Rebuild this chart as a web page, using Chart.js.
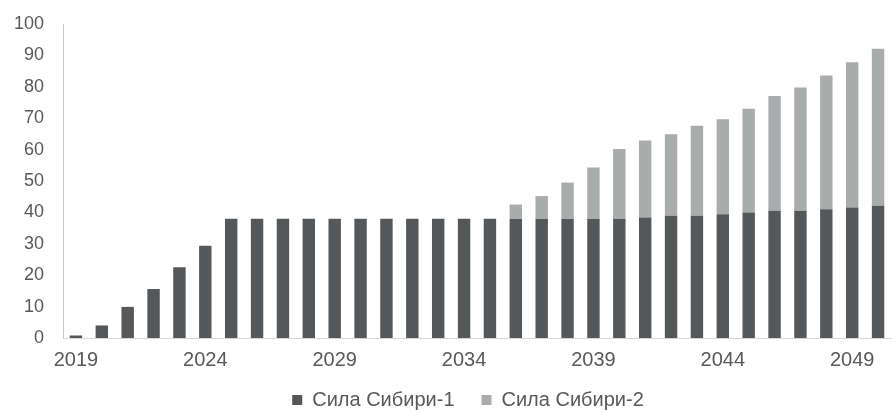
<!DOCTYPE html>
<html>
<head>
<meta charset="utf-8">
<script src="https://cdn.jsdelivr.net/npm/chart.js@4.4.1/dist/chart.umd.min.js"></script>
<style>
  html, body { margin: 0; padding: 0; background: #ffffff; }
  #wrap { width: 892px; height: 412px; position: relative; }
</style>
</head>
<body>
<div id="wrap"><canvas id="chart"></canvas></div>
<script>
// Годы (категории оси X)
const years = ['2019','2020','2021','2022','2023','2024','2025','2026','2027','2028',
               '2029','2030','2031','2032','2033','2034','2035','2036','2037','2038',
               '2039','2040','2041','2042','2043','2044','2045','2046','2047','2048',
               '2049','2050'];

// Сила Сибири-1, млрд куб. м
const sila1 = [0.8, 4, 9.9, 15.6, 22.5, 29.4,
               38, 38, 38, 38, 38, 38, 38, 38, 38, 38, 38, 38, 38, 38, 38, 38,
               38.4, 38.9, 38.9, 39.4, 40.0, 40.5, 40.5, 41.0, 41.6, 42.1];

// Сила Сибири-2, млрд куб. м (поставки с 2036 г.)
const sila2 = [null, null, null, null, null, null, null, null, null, null,
               null, null, null, null, null, null, null,
               4.5, 7.2, 11.5, 16.3, 22.2, 24.5, 26.0, 28.7, 30.3, 33.0, 36.6, 39.3, 42.6, 46.2, 50.0];

// Подписи оси Y
const yTicks = [0, 10, 20, 30, 40, 50, 60, 70, 80, 90, 100];

const seriesNames = ['Сила Сибири-1', 'Сила Сибири-2'];
const textColor = '#595959';
const fontFamily = '"Liberation Sans", Arial, sans-serif';

// Донастройка раскладки: сдвиг легенды и место под подписи оси X
const layoutTweak = {
  id: 'layoutTweak',
  afterLayout(chart) {
    const lg = chart.legend;
    if (lg) { lg.left -= 9; lg.right -= 9; }
    const x = chart.scales.x;
    if (x) { x.bottom = x.top + 40; }
  }
};

new Chart(document.getElementById('chart'), {
  type: 'bar',
  data: {
    labels: years,
    datasets: [
      { label: seriesNames[0], data: sila1, backgroundColor: '#55585a', borderWidth: 0 },
      { label: seriesNames[1], data: sila2, backgroundColor: '#a9acad', borderWidth: 0 }
    ]
  },
  plugins: [layoutTweak],
  options: {
    responsive: true,
    maintainAspectRatio: false,
    animation: false,
    layout: { padding: { top: 24, right: 1, bottom: -8, left: 0 } },
    datasets: { bar: { categoryPercentage: 1.0, barPercentage: 0.48 } },
    plugins: {
      tooltip: { enabled: false },
      legend: {
        position: 'bottom',
        fullSize: false,
        labels: {
          boxWidth: 10,
          boxHeight: 10,
          padding: 27,
          color: textColor,
          font: { family: fontFamily, size: 20 }
        }
      }
    },
    scales: {
      x: {
        stacked: true,
        afterFit: s => { s.height = 25; },
        grid: { display: false, drawTicks: false },
        border: { display: true, color: '#d4d6d7', width: 1 },
        ticks: {
          autoSkip: false,
          maxRotation: 0,
          padding: 10,
          color: textColor,
          font: { family: fontFamily, size: 20 },
          callback: (v, i) => (i % 5 === 0 ? years[i] : null)
        }
      },
      y: {
        stacked: true,
        min: yTicks[0],
        max: yTicks[yTicks.length - 1],
        afterFit: s => { s.width = 63; s.paddingTop = 0; s.paddingBottom = 0; },
        afterBuildTicks: s => { s.ticks = yTicks.map(v => ({ value: v })); },
        grid: { display: false, drawTicks: false },
        border: { display: true, color: '#c4c6c7', width: 1 },
        ticks: {
          padding: 19,
          color: textColor,
          font: { family: fontFamily, size: 18 }
        }
      }
    }
  }
});
</script>
</body>
</html>
